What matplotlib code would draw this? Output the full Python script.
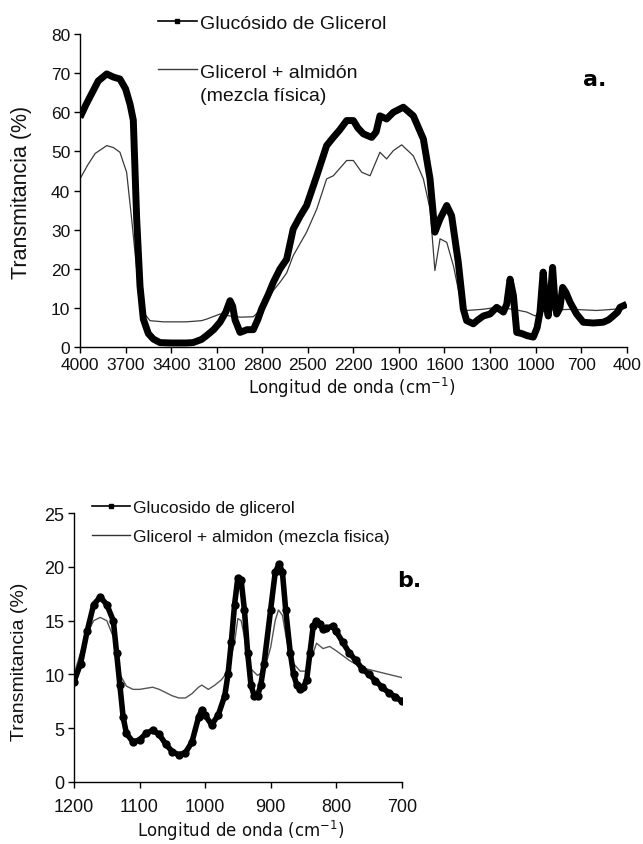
import numpy as np
import matplotlib
matplotlib.use("Agg")
import matplotlib.pyplot as plt
from matplotlib.lines import Line2D
from matplotlib.legend_handler import HandlerLine2D

plt.rcParams['font.family'] = ['Liberation Sans', 'DejaVu Sans']

# ---------------- Panel a (full spectrum) ----------------
a_gluc_wn = [4000, 3960, 3920, 3880, 3824, 3780, 3737, 3700, 3670, 3649, 3627, 3605, 3583, 3550,
             3517, 3473, 3400, 3300, 3256, 3200, 3166, 3120, 3078, 3040, 3012, 2995, 2979, 2946,
             2900, 2859, 2830, 2804, 2760, 2727, 2683, 2639, 2596, 2550, 2508, 2441, 2376, 2332,
             2290, 2244, 2200, 2170, 2134, 2079, 2050, 2025, 1981, 1937, 1871, 1805, 1739, 1695,
             1663, 1629, 1585, 1553, 1509, 1476, 1454, 1410, 1380, 1344, 1300, 1256, 1212, 1190,
             1168, 1146, 1124, 1090, 1058, 1015, 990, 971, 950, 935, 917, 900, 888, 875, 861, 840,
             822, 800, 773, 730, 686, 620, 555, 520, 489, 460, 444, 400]
a_gluc_t = [58.7, 62, 65, 68, 69.8, 69, 68.5, 66, 62, 58, 33, 15.7, 7.2, 3.5,
            2.1, 1.2, 1.1, 1.1, 1.2, 2, 3, 4.5, 6.4, 9, 11.9, 10.5, 7, 3.8,
            4.5, 4.5, 7, 9.8, 13.5, 16.6, 20, 22.5, 30.2, 33.5, 36.2, 43.8, 51.5, 53.6,
            55.5, 57.9, 57.9, 56, 54.5, 53.6, 55, 59.1, 58.3, 60, 61.3, 59.1, 53.2, 43,
            29.4, 32.8, 36.2, 33.6, 21.7, 9.8, 6.8, 6, 7, 8, 8.5, 10.2, 9, 11,
            17.4, 13.2, 3.8, 3.5, 3, 2.6, 5, 9, 19.2, 12, 8, 14, 20.4, 13, 8.5, 10,
            15.3, 14, 11.5, 8.5, 6.4, 6.2, 6.4, 7, 8, 9, 10.2, 11]

a_mix_wn = [4000, 3950, 3900, 3824, 3780, 3737, 3693, 3660, 3627, 3600, 3583, 3539, 3450, 3300,
            3200, 3166, 3078, 3012, 2946, 2859, 2804, 2727, 2683, 2639, 2596, 2508, 2441, 2376,
            2332, 2244, 2200, 2145, 2090, 2025, 1981, 1937, 1882, 1805, 1739, 1695, 1663, 1629,
            1585, 1541, 1487, 1454, 1350, 1256, 1146, 1058, 1003, 971, 900, 766, 650, 599, 489, 400]
a_mix_t = [43, 46.5, 49.5, 51.5, 51, 49.8, 44.7, 32.8, 20, 13, 8.9, 6.8, 6.5, 6.5,
           6.8, 7.2, 8.5, 8, 7.7, 7.8, 9.8, 14.5, 16.6, 19, 23.4, 29.4, 35.3, 43,
           43.8, 47.7, 47.7, 44.7, 43.8, 49.8, 48.1, 50.2, 51.7, 48.9, 43, 35.3, 19.6, 27.7,
           26.8, 20.8, 10.6, 9.4, 9.7, 10.2, 9.7, 9, 8, 9, 9.5, 9.7, 9.5, 9.4, 9.7, 10.2]

a_xticks = [4000, 3700, 3400, 3100, 2800, 2500, 2200, 1900, 1600, 1300, 1000, 700, 400]
a_yticks = [0, 10, 20, 30, 40, 50, 60, 70, 80]

# ---------------- Panel b (1200-700 cm-1) ----------------
b_gluc_wn = [1200, 1190, 1180, 1170, 1160, 1150, 1140, 1135, 1130, 1125, 1120, 1110, 1100, 1090,
             1080, 1070, 1060, 1050, 1040, 1030, 1020, 1010, 1005, 1000, 990, 980, 970, 965, 960,
             955, 950, 945, 940, 935, 930, 925, 920, 915, 910, 900, 893, 887, 882, 877, 870, 865,
             860, 855, 850, 845, 840, 835, 830, 825, 820, 815, 805, 800, 790, 780, 770, 760, 750,
             740, 730, 720, 710, 700]
b_gluc_t = [9.3, 11, 14, 16.5, 17.2, 16.5, 15, 12, 9, 6, 4.5, 3.7, 3.9, 4.5,
            4.8, 4.4, 3.5, 2.8, 2.5, 2.7, 3.7, 6, 6.7, 6.2, 5.3, 6.2, 8, 10, 13,
            16.5, 19, 18.8, 16, 12, 9, 8, 8, 9, 11, 16, 19.5, 20.3, 19.5, 16, 12, 10,
            9, 8.6, 8.8, 9.5, 12, 14.5, 15, 14.7, 14.2, 14.3, 14.5, 14, 13, 12, 11.3, 10.5, 10,
            9.4, 8.8, 8.3, 7.9, 7.5]

b_mix_wn = [1200, 1190, 1180, 1170, 1160, 1150, 1140, 1130, 1120, 1110, 1100, 1080, 1070, 1060,
            1050, 1040, 1030, 1020, 1010, 1005, 995, 985, 975, 965, 955, 950, 945, 940, 935, 930,
            920, 910, 900, 893, 888, 882, 875, 865, 855, 845, 835, 830, 820, 810, 800, 780, 760,
            740, 720, 700]
b_mix_t = [10, 12, 13.8, 15, 15.3, 15, 13.5, 10, 8.9, 8.6, 8.6, 8.8, 8.6, 8.3,
           8, 7.8, 7.8, 8.2, 8.8, 9, 8.6, 9, 9.5, 10.3, 13, 15.2, 15, 13.5, 11.5, 10.5,
           9.9, 10.3, 12.5, 15, 16, 15.5, 13, 11, 10.3, 10.3, 12, 12.9, 12.4, 12.6, 12.2, 11.3, 10.6,
           10.3, 10, 9.7]

b_xticks = [1200, 1100, 1000, 900, 800, 700]
b_yticks = [0, 5, 10, 15, 20, 25]

label_gluc_a = "Glucósido de Glicerol"
label_mix_a = "Glicerol + almidón\n(mezcla física)"
label_gluc_b = "Glucosido de glicerol"
label_mix_b = "Glicerol + almidon (mezcla fisica)"

W, H = 643, 845
fig = plt.figure(figsize=(W / 100, H / 100), dpi=100)


def ax_rect(l, t, r, b):
    return [l / W, 1 - b / H, (r - l) / W, (b - t) / H]


class ShiftedHandler(HandlerLine2D):
    def __init__(self, shift, **kw):
        super().__init__(**kw)
        self.shift = shift

    def create_artists(self, legend, orig_handle, xdescent, ydescent, width, height, fontsize, trans):
        arts = super().create_artists(legend, orig_handle, xdescent, ydescent, width, height, fontsize, trans)
        for a in arts:
            a.set_ydata(np.asarray(a.get_ydata(), dtype=float) + self.shift)
        return arts


def style_axes(ax, tick_size, xpad=3):
    for s in ['top', 'right']:
        ax.spines[s].set_visible(False)
    for s in ['left', 'bottom']:
        ax.spines[s].set_linewidth(1.0)
        ax.spines[s].set_color('black')
    ax.tick_params(direction='out', length=4, width=1.0, color='black', pad=3,
                   labelsize=tick_size, labelcolor='#111111')
    ax.tick_params(axis='x', pad=xpad)


# ---- panel a ----
ax1 = fig.add_axes(ax_rect(80, 35, 626.7, 348.3))
ax1.plot(a_mix_wn, a_mix_t, color='#3a3a3a', lw=0.9, zorder=2)
ax1.plot(a_gluc_wn, a_gluc_t, color='black', lw=5.0, solid_joinstyle='round',
         solid_capstyle='butt', zorder=3)
ax1.set_xlim(4000, 400)
ax1.set_ylim(0, 80)
ax1.set_xticks(a_xticks)
ax1.set_yticks(a_yticks)
style_axes(ax1, 12.5, xpad=3)

h1 = Line2D([], [], color='black', lw=1.2, marker='s', ms=3)
h2 = Line2D([], [], color='#3a3a3a', lw=1.0)
leg1 = ax1.legend([h1, h2], [label_gluc_a, label_mix_a], loc='upper left',
                  bbox_to_anchor=(158 / W, 1 - 15 / H), bbox_transform=fig.transFigure,
                  frameon=False, fontsize=14, handlelength=2.0, handletextpad=0.15,
                  labelspacing=1.66, borderpad=0, borderaxespad=0,
                  handler_map={h2: ShiftedHandler(10.8)})
for t in leg1.get_texts():
    t.set_color('#111111')
    t.set_linespacing(1.45)

fig.text(583 / W, 1 - 80 / H, "a.", fontsize=16, fontweight='bold', ha='left', va='center',
         family=['DejaVu Sans'])
fig.text(22 / W, 1 - 192 / H, "Transmitancia (%)", rotation=90, fontsize=15.5,
         ha='center', va='center', color='#111111')
fig.text(352 / W, 1 - 388 / H, r"Longitud de onda (cm$^{-1}$)", fontsize=12,
         ha='center', va='center', family=['DejaVu Sans'], color='#111111')

# ---- panel b ----
ax2 = fig.add_axes(ax_rect(74, 514.3, 401.7, 782.7))
ax2.plot(b_mix_wn, b_mix_t, color='#555555', lw=1.0, zorder=2)
ax2.plot(b_gluc_wn, b_gluc_t, color='black', lw=4.0, marker='o', ms=6, mew=0,
         solid_joinstyle='round', zorder=3)
ax2.set_xlim(1200, 700)
ax2.set_ylim(0, 25)
ax2.set_xticks(b_xticks)
ax2.set_yticks(b_yticks)
style_axes(ax2, 13, xpad=8)

g1 = Line2D([], [], color='black', lw=1.2, marker='s', ms=3.5)
g2 = Line2D([], [], color='#333333', lw=1.0)
leg2 = ax2.legend([g1, g2], [label_gluc_b, label_mix_b], loc='upper left',
                  bbox_to_anchor=(92 / W, 1 - 501 / H), bbox_transform=fig.transFigure,
                  frameon=False, fontsize=12.5, handlelength=2.2, handletextpad=0.15,
                  labelspacing=0.8, borderpad=0, borderaxespad=0)
for t in leg2.get_texts():
    t.set_color('#111111')

fig.text(397 / W, 1 - 581 / H, "b.", fontsize=16, fontweight='bold', ha='left', va='center',
         family=['DejaVu Sans'])
fig.text(20 / W, 1 - 662 / H, "Transmitancia (%)", rotation=90, fontsize=14,
         ha='center', va='center', color='#111111')
fig.text(241 / W, 1 - 831 / H, r"Longitud de onda (cm$^{-1}$)", fontsize=12,
         ha='center', va='center', family=['DejaVu Sans'], color='#111111')

fig.savefig("out.png", dpi=100)
